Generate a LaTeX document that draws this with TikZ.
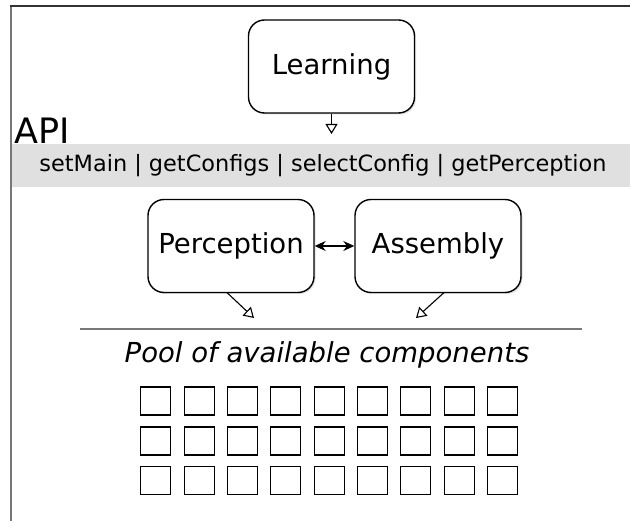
\documentclass[tikz,border=0pt]{standalone}
\usepackage{fontspec}
\setmainfont{DejaVu Sans}
\usetikzlibrary{arrows.meta,shadows}
\definecolor{bargray}{RGB}{224,224,224}
\definecolor{framegray}{RGB}{120,120,120}
\tikzset{
  compbox/.style={draw=black, line width=1.4pt, rounded corners=16pt, fill=white,
    minimum width=166pt, minimum height=93pt, inner sep=0pt,
    font=\fontsize{27.5}{32}\selectfont,
    drop shadow={opacity=0.25, shadow xshift=1.5pt, shadow yshift=-1.5pt}},
  sqbox/.style={draw=black, line width=1.1pt, minimum width=30pt, minimum height=28pt, inner sep=0pt},
  openarrow/.style={line width=1.1pt, -{Triangle[open, length=10pt, width=12pt]}},
  bothstealth/.style={line width=1.3pt, {Stealth[length=11pt,width=10pt]}-{Stealth[length=11pt,width=10pt]}}
}
\begin{document}
\begin{tikzpicture}[x=1pt,y=-1pt]
\useasboundingbox (0,0) rectangle (630,521);
% frame
\draw[framegray, line width=1.5pt] (11,6) -- (11,521);
\draw[black!80, line width=1.5pt] (10,6) -- (630,6);
% API bar
\fill[bargray] (11.7,144) rectangle (630,187);
\node[font=\fontsize{22.4}{27}\selectfont, inner sep=0pt] (bar) at (323,166) {setMain | getConfigs | selectConfig | getPerception};
\node[font=\fontsize{35}{40}\selectfont, anchor=base west, inner sep=0pt] (api) at (14,144) {API};
% boxes
\node[compbox] (learn) at (331.5,66.5) {Learning};
\node[compbox] (perc) at (231,246) {Perception};
\node[compbox] (asm) at (438,246) {Assembly};
% connectors
\coordinate (lend) at (331.5,134);
\draw[openarrow] (learn.south) -- (lend);
\draw[bothstealth] (perc.east) -- (asm.west);
\coordinate (pstart) at (227,292.6);
\coordinate (pend) at (254,318);
\coordinate (astart) at (444,292.6);
\coordinate (aend) at (416,318);
\draw[openarrow] (pstart) -- (pend);
\draw[openarrow] (astart) -- (aend);
% separator
\draw[framegray, line width=1.2pt] (80,329) -- (582,329);
\node[font=\itshape\fontsize{27.5}{32}\selectfont, inner sep=0pt] (pool) at (327,355) {Pool of available components};
% squares
\foreach \r/\yy in {1/401,2/441,3/480.5}{
  \foreach \c in {0,...,8}{
    \node[sqbox] (sq-\r-\c) at ({155.7+43.35*\c},\yy) {};
  }
}
\end{tikzpicture}
\end{document}
